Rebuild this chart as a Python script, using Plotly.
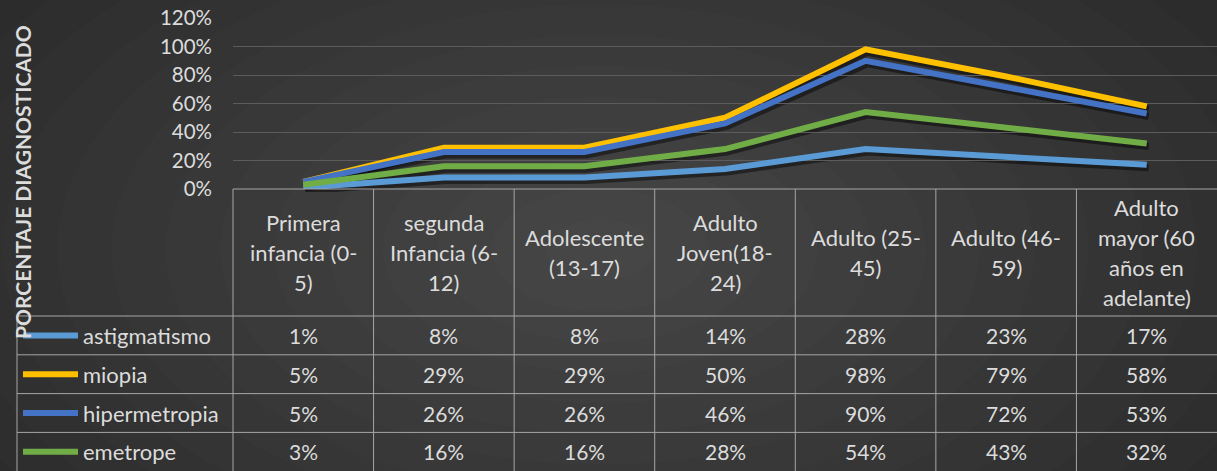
import plotly.graph_objects as go

# ---- data -------------------------------------------------------------
categories = [
    "Primera<br>infancia (0-<br>5)",
    "segunda<br>Infancia (6-<br>12)",
    "Adolescente<br>(13-17)",
    "Adulto<br>Joven(18-<br>24)",
    "Adulto (25-<br>45)",
    "Adulto (46-<br>59)",
    "Adulto<br>mayor (60<br>años en<br>adelante)",
]
series_names = ["astigmatismo", "miopia", "hipermetropia", "emetrope"]
astigmatismo = [0.01, 0.08, 0.08, 0.14, 0.28, 0.23, 0.17]
miopia = [0.05, 0.29, 0.29, 0.50, 0.98, 0.79, 0.58]
hipermetropia = [0.05, 0.26, 0.26, 0.46, 0.90, 0.72, 0.53]
emetrope = [0.03, 0.16, 0.16, 0.28, 0.54, 0.43, 0.32]
tick_vals = [0, 0.2, 0.4, 0.6, 0.8, 1.0, 1.2]
axis_title = "PORCENTAJE DIAGNOSTICADO"

series_values = [astigmatismo, miopia, hipermetropia, emetrope]
series_colors = ["#5B9BD5", "#FFC000", "#4472C4", "#70AD47"]

# ---- layout geometry (pixels) ----------------------------------------
W, H = 1217, 471
FONT = "Lato"
TXT = "#DCDCDC"
GRID = "#5C5C5C"
BORDER = "#A6A6A6"
TEXT_SIZE = 22
VALUE_SIZE = 21

PLOT_L, PLOT_R = 233, 1217
PLOT_T, PLOT_B = 18, 189          # 120% line and 0% line
HEAD_B = 316                       # bottom of category header row
ROW_H = 38.8
TABLE_L = 17
N = len(categories)


def px(x):
    return x / W


def py(y):
    return 1 - y / H


cols = list(range(N))
fig = go.Figure()

# shadow copies of the lines on a slightly offset subplot
for vals in series_values:
    fig.add_trace(go.Scatter(
        x=cols, y=vals, mode="lines", xaxis="x", yaxis="y",
        line=dict(color="rgba(0,0,0,0.45)", width=7),
        hoverinfo="skip", showlegend=False,
    ))

# the series lines
for name, vals, col in zip(series_names, series_values, series_colors):
    fig.add_trace(go.Scatter(
        x=cols, y=vals, mode="lines", name=name, xaxis="x2", yaxis="y2",
        line=dict(color=col, width=6), showlegend=False,
    ))

shapes = []

# soft radial background glow
n_glow = 14
cx, cy = 600, 250
for i in range(n_glow):
    f = 1 - i / n_glow
    rx, ry = 760 * f, 430 * f
    shapes.append(dict(
        type="circle", xref="paper", yref="paper", layer="below",
        x0=px(cx - rx), x1=px(cx + rx), y0=py(cy + ry), y1=py(cy - ry),
        fillcolor="rgba(255,255,255,0.012)", line=dict(width=0),
    ))

# data table borders
col_w = (PLOT_R - PLOT_L) / N
shapes.append(dict(type="line", xref="paper", yref="paper",
                   x0=px(PLOT_L), x1=px(PLOT_R), y0=py(PLOT_B), y1=py(PLOT_B),
                   line=dict(color=BORDER, width=1)))
for r in range(4):
    yy = HEAD_B + r * ROW_H
    shapes.append(dict(type="line", xref="paper", yref="paper",
                       x0=px(TABLE_L), x1=px(PLOT_R), y0=py(yy), y1=py(yy),
                       line=dict(color=BORDER, width=1)))
for c in range(N):
    xx = PLOT_L + c * col_w
    shapes.append(dict(type="line", xref="paper", yref="paper",
                       x0=px(xx), x1=px(xx), y0=py(PLOT_B), y1=0,
                       line=dict(color=BORDER, width=1)))
shapes.append(dict(type="line", xref="paper", yref="paper",
                   x0=px(TABLE_L), x1=px(TABLE_L), y0=py(HEAD_B), y1=0,
                   line=dict(color=BORDER, width=1)))

annotations = []

# category header cells, one annotation per text line
LINE_GAP = 30
head_c = (PLOT_B + HEAD_B) / 2
for c, label in enumerate(categories):
    lines = label.split("<br>")
    n = len(lines)
    for k, ln in enumerate(lines):
        yy = head_c + (k - (n - 1) / 2) * LINE_GAP
        annotations.append(dict(
            x=c, xref="x2", y=py(yy), yref="paper", text=ln, showarrow=False,
            xanchor="center", yanchor="middle",
            font=dict(family=FONT, size=TEXT_SIZE, color=TXT),
        ))

# series rows: legend key, name and values
for r, (name, vals, col) in enumerate(zip(series_names, series_values, series_colors)):
    yc = HEAD_B + (r + 0.5) * ROW_H
    shapes.append(dict(type="line", xref="paper", yref="paper",
                       x0=px(23), x1=px(78), y0=py(yc), y1=py(yc),
                       line=dict(color=col, width=6)))
    annotations.append(dict(
        x=px(81), xref="paper", y=py(yc), yref="paper", text=name,
        showarrow=False, xanchor="left", yanchor="middle",
        font=dict(family=FONT, size=TEXT_SIZE, color=TXT),
    ))
    for c, v in enumerate(vals):
        annotations.append(dict(
            x=c, xref="x2", y=py(yc), yref="paper", text=f"{round(v * 100)}%",
            showarrow=False, xanchor="center", yanchor="middle",
            font=dict(family=FONT, size=VALUE_SIZE, color=TXT),
        ))

# vertical axis title
annotations.append(dict(
    x=px(22), xref="paper", y=py(182), yref="paper", text=axis_title,
    showarrow=False, textangle=-90, xanchor="center", yanchor="middle",
    font=dict(family=FONT, size=21, color=TXT, weight="bold"),
))

dx, dy = 2, 3  # shadow offset in pixels
sx = dx / col_w  # horizontal shadow shift in category units
fig.update_layout(
    width=W, height=H,
    margin=dict(l=0, r=0, t=0, b=0, autoexpand=False),
    paper_bgcolor="#2A2A2A",
    plot_bgcolor="rgba(0,0,0,0)",
    showlegend=False,
    shapes=shapes,
    annotations=annotations,
    xaxis=dict(domain=[px(PLOT_L), px(PLOT_R)], range=[-0.5 - sx, N - 0.5 - sx],
               visible=False, fixedrange=True, automargin=False),
    yaxis=dict(domain=[py(PLOT_B + dy), py(PLOT_T + dy)], range=[0, 1.2001],
               visible=False, fixedrange=True, automargin=False),
    xaxis2=dict(domain=[px(PLOT_L), px(PLOT_R)], range=[-0.5, N - 0.5],
                visible=False, anchor="y2", fixedrange=True, automargin=False),
    yaxis2=dict(domain=[py(PLOT_B), py(PLOT_T)], range=[0, 1.2001],
                anchor="x2", tickvals=tick_vals, tickformat=".0%",
                showgrid=True, gridcolor=GRID, gridwidth=1,
                zeroline=False, showline=False, ticks="",
                ticklabelstandoff=20, automargin=False,
                tickfont=dict(family=FONT, size=20.5, color=TXT),
                fixedrange=True),
)

fig.write_html("out.html")
